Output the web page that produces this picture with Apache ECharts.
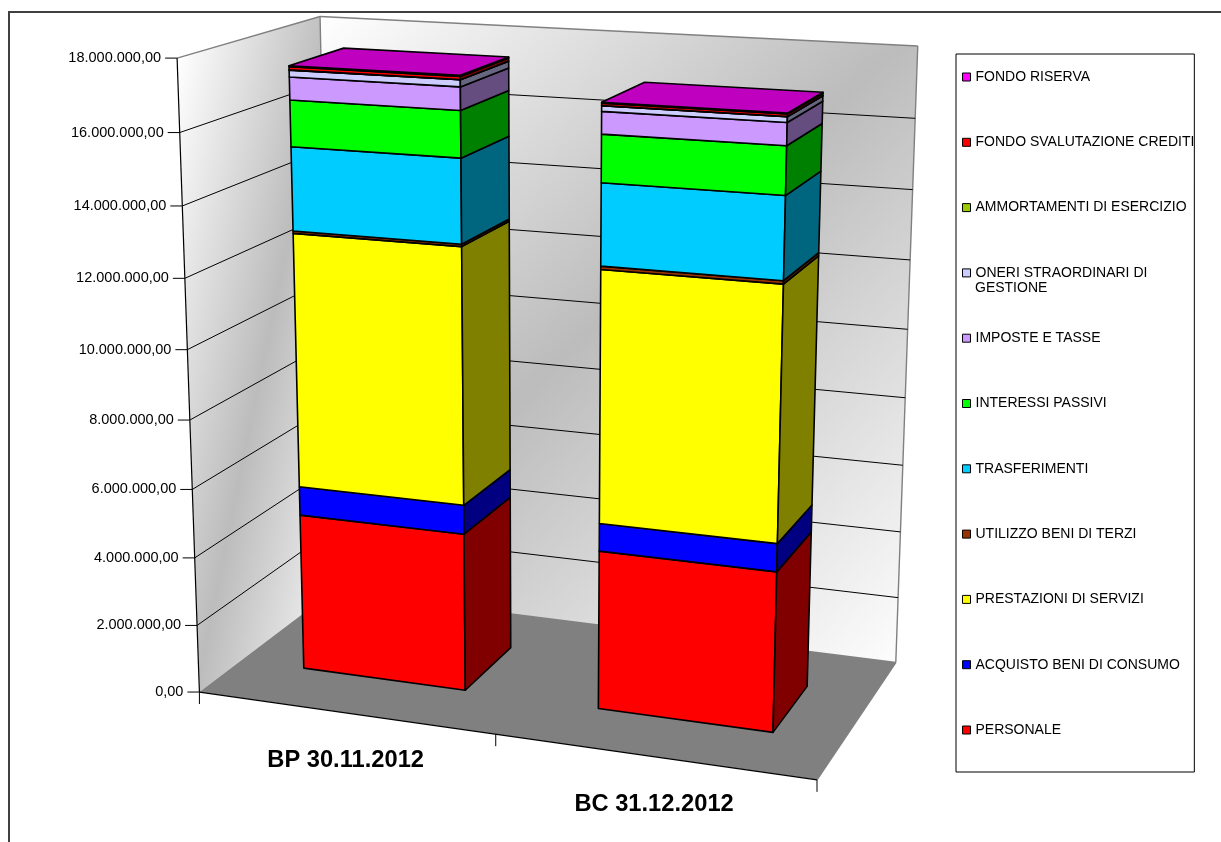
<!DOCTYPE html>
<html><head><meta charset="utf-8"><style>html,body{margin:0;padding:0;background:#fff}#c{width:1221px;height:842px}</style>
<script src="https://cdn.jsdelivr.net/npm/echarts@6/dist/echarts.min.js"></script></head><body><div id="c"></div>
<script>
const categories=['BP 30.11.2012','BC 31.12.2012'];
const yTicks=[0,2e6,4e6,6e6,8e6,10e6,12e6,14e6,16e6,18e6];
const yTickLabels=['0,00','2.000.000,00','4.000.000,00','6.000.000,00','8.000.000,00','10.000.000,00','12.000.000,00','14.000.000,00','16.000.000,00','18.000.000,00'];
const seriesNames=['PERSONALE','ACQUISTO BENI DI CONSUMO','PRESTAZIONI DI SERVIZI','UTILIZZO BENI DI TERZI','TRASFERIMENTI','INTERESSI PASSIVI','IMPOSTE E TASSE','ONERI STRAORDINARI DI GESTIONE','AMMORTAMENTI DI ESERCIZIO','FONDO SVALUTAZIONE CREDITI','FONDO RISERVA'];
const personale=[4650000,4615000];
const acquisto=[846000,797000];
const prestazioni=[7355000,7115000];
const utilizzo=[65000,91000];
const trasferimenti=[2366000,2255000];
const interessi=[1294000,1302000];
const imposte=[634000,603000];
const oneri=[190000,148000];
const ammortamenti=[5000,5000];
const svalutazione=[85000,65000];
const riserva=[30000,25000];
const values=[personale,acquisto,prestazioni,utilizzo,trasferimenti,interessi,imposte,oneri,ammortamenti,svalutazione,riserva];
const faceColors=['#FF0000','#0000FF','#FFFF00','#993300','#00CCFF','#00FF00','#CC99FF','#CCCCFF','#99CC00','#FF0000','#FF00FF'];
const sideColors=['#800000','#000080','#808000','#4D1A00','#006680','#008000','#664D80','#666680','#4D6600','#800000','#800080'];
const W=1221,H=842;
const barHalfWidth=0.14,barDepth=[0.30,0.70],barShift=[0,0.002];
// camera calibration of the 3D box: [u,v,w,x,y]
const calib=[[0,0,0,199.7,691.7],[0,1,0,176.7,59],[1,0,0,817.7,779.5],[1,0,1,895.5,663],[1,1,1,918,46],[0,1,1,320,16],[0,0,1,333,592],
[0,1/9,0,196.7,625],[0,2/9,0,194.3,557],[0,3/9,0,191.7,490],[0,6/9,0,185,278],[0,7/9,0,182.7,206.3],[0,8/9,0,180,132.3],
[1,1/9,1,898,597],[1,2/9,1,900,532],[.5,0,0,495.7,735]];
function solve(A,b){const n=b.length;for(let i=0;i<n;i++){let m=i;for(let r=i+1;r<n;r++)if(Math.abs(A[r][i])>Math.abs(A[m][i]))m=r;[A[i],A[m]]=[A[m],A[i]];[b[i],b[m]]=[b[m],b[i]];for(let r=i+1;r<n;r++){const f=A[r][i]/A[i][i];for(let c=i;c<n;c++)A[r][c]-=f*A[i][c];b[r]-=f*b[i];}}const x=new Array(n);for(let i=n-1;i>=0;i--){let s=b[i];for(let c=i+1;c<n;c++)s-=A[i][c]*x[c];x[i]=s/A[i][i];}return x;}
function fit(pts){const N=Array.from({length:11},()=>new Array(11).fill(0)),B=new Array(11).fill(0);
 const add=(r,t)=>{for(let i=0;i<11;i++){B[i]+=r[i]*t;for(let j=0;j<11;j++)N[i][j]+=r[i]*r[j];}};
 pts.forEach(([u,v,w,x,y])=>{add([u,v,w,1,0,0,0,0,-x*u,-x*v,-x*w],x);add([0,0,0,0,u,v,w,1,-y*u,-y*v,-y*w],y);});
 return solve(N,B);}
const p=fit(calib);
function proj(u,v,w){const d=p[8]*u+p[9]*v+p[10]*w+1;return [(p[0]*u+p[1]*v+p[2]*w+p[3])/d,(p[4]*u+p[5]*v+p[6]*w+p[7])/d];}
const quad=(pts,fill,st,lw)=>({type:'polygon',shape:{points:pts},style:{fill:fill,stroke:st||'#000',lineWidth:lw==null?1.6:lw,lineJoin:'round'}});
const line=(a,b,st,lw)=>({type:'line',shape:{x1:a[0],y1:a[1],x2:b[0],y2:b[1]},style:{stroke:st||'#000',lineWidth:lw||1}});
const vOf=(api,val)=>1-api.coord([0,val])[1]/H;
function wallRender(params,api){
 const ch=[];const wallGrad=(a,b,c,d,m)=>new echarts.graphic.LinearGradient(a,b,c,d,[{offset:0,color:'#FFFFFF'},{offset:m,color:'#BCBCBC'},{offset:1,color:'#FFFFFF'}]);
 ch.push(quad([proj(0,0,0),proj(0,1,0),proj(0,1,1),proj(0,0,1)],wallGrad(0,.064,1.83,.15,.5),'none',0));
 ch.push(quad([proj(0,0,1),proj(0,1,1),proj(1,1,1),proj(1,0,1)],wallGrad(0,0,1,1,.47),'none',0));
 ch.push(quad([proj(0,0,0),proj(0,0,1),proj(1,0,1),proj(1,0,0)],'#808080','none',0));
 [[proj(0,1,0),proj(0,1,1)],[proj(0,1,1),proj(1,1,1)],[proj(1,1,1),proj(1,0,1)],[proj(0,1,1),proj(0,0,1)],[proj(1,0,1),proj(1,0,0)],[proj(0,0,1),proj(1,0,1)]].forEach(s=>ch.push(line(s[0],s[1],'#808080',1.4)));
 return {type:'group',children:ch};
}
function gridRender(params,api){
 const val=api.value(0),v=vOf(api,val),a=proj(0,v,0),b=proj(0,v,1),c=proj(1,v,1);const ch=[];
 if(val>0&&val<18e6){ch.push(line(a,b));ch.push(line(b,c));}
 ch.push(line([a[0]-12,a[1]],a));
 ch.push({type:'text',style:{x:a[0]-16,y:a[1],text:yTickLabels[params.dataIndex],align:'right',verticalAlign:'middle',font:'14.5px "Liberation Sans"',fill:'#000'}});
 return {type:'group',children:ch};
}
function axisRender(params,api){
 const ch=[line(proj(0,0,0),proj(0,1,0),'#000',1.2),line(proj(0,0,0),proj(1,0,0),'#000',1.2)];
 [0,.5,1].forEach(u=>{const a=proj(u,0,0);ch.push(line(a,[a[0],a[1]+12]));});
 return {type:'group',children:ch};
}
function catRender(params,api){
 const i=api.value(0),u=api.coord([i,0])[0]/W,a=proj(u,0,0);
 return {type:'text',style:{x:a[0]+1,y:a[1]+48,text:categories[i],align:'center',verticalAlign:'middle',font:'bold 23.7px "Liberation Sans"',fill:'#000'}};
}
function barRender(params,api){
 const si=params.seriesIndex-4;const i=api.value(0),lo=vOf(api,api.value(1)),hi=vOf(api,api.value(2));
 const uc=api.coord([i,0])[0]/W+barShift[i],u0=uc-barHalfWidth,u1=uc+barHalfWidth,w0=barDepth[0],w1=barDepth[1];
 const ch=[quad([proj(u0,lo,w0),proj(u1,lo,w0),proj(u1,hi,w0),proj(u0,hi,w0)],faceColors[si]),
           quad([proj(u1,lo,w0),proj(u1,lo,w1),proj(u1,hi,w1),proj(u1,hi,w0)],sideColors[si])];
 if(si===values.length-1)ch.push(quad([proj(u0,hi,w0),proj(u1,hi,w0),proj(u1,hi,w1),proj(u0,hi,w1)],'#BF00BF'));
 return {type:'group',children:ch};
}
const barSeries=seriesNames.map((n,si)=>({name:n,type:'custom',clip:false,silent:true,z:5,renderItem:barRender,itemStyle:{color:faceColors[si]},
 encode:{x:0,y:2},data:categories.map((c,i)=>{let s=0;for(let k=0;k<si;k++)s+=values[k][i];return [i,s,s+values[si][i]];})}));
const chart=echarts.init(document.getElementById('c'),null,{renderer:'canvas'});
chart.setOption({animation:false,backgroundColor:'#fff',
 grid:{left:0,top:0,width:W,height:H,containLabel:false},
 xAxis:{type:'category',data:categories,show:false},
 yAxis:{type:'value',min:0,max:18e6,interval:2e6,show:false},
 legend:{orient:'vertical',left:956,top:54,data:seriesNames.slice().reverse(),icon:'rect',itemWidth:8,itemHeight:8,itemGap:49.3,padding:[15,0,34,6],itemStyle:{borderColor:'#000',borderWidth:1},
  backgroundColor:'#fff',borderColor:'#000',borderWidth:1,selectedMode:false,
  formatter:n=>n==='ONERI STRAORDINARI DI GESTIONE'?'ONERI STRAORDINARI DI':n,
  textStyle:{fontFamily:'Liberation Sans',fontSize:14,color:'#000',lineHeight:16}},
 graphic:[{type:'polyline',shape:{points:[[9,H+10],[9,12],[W+10,12]]},style:{stroke:'#404040',lineWidth:2,fill:'none'},silent:true},
  {type:'text',x:975,y:281,z:100,silent:true,style:{text:'GESTIONE',font:'14px "Liberation Sans"',fill:'#000'}}],
 series:[{type:'custom',clip:false,silent:true,z:1,renderItem:wallRender,data:[[0]]},
  {type:'custom',clip:false,silent:true,z:2,renderItem:gridRender,data:yTicks.map(t=>[t]),encode:{y:0}},
  {type:'custom',clip:false,silent:true,z:3,renderItem:axisRender,data:[[0]]},
  {type:'custom',clip:false,silent:true,z:3,renderItem:catRender,data:categories.map((c,i)=>[i])},
  ...barSeries]});
</script></body></html>
